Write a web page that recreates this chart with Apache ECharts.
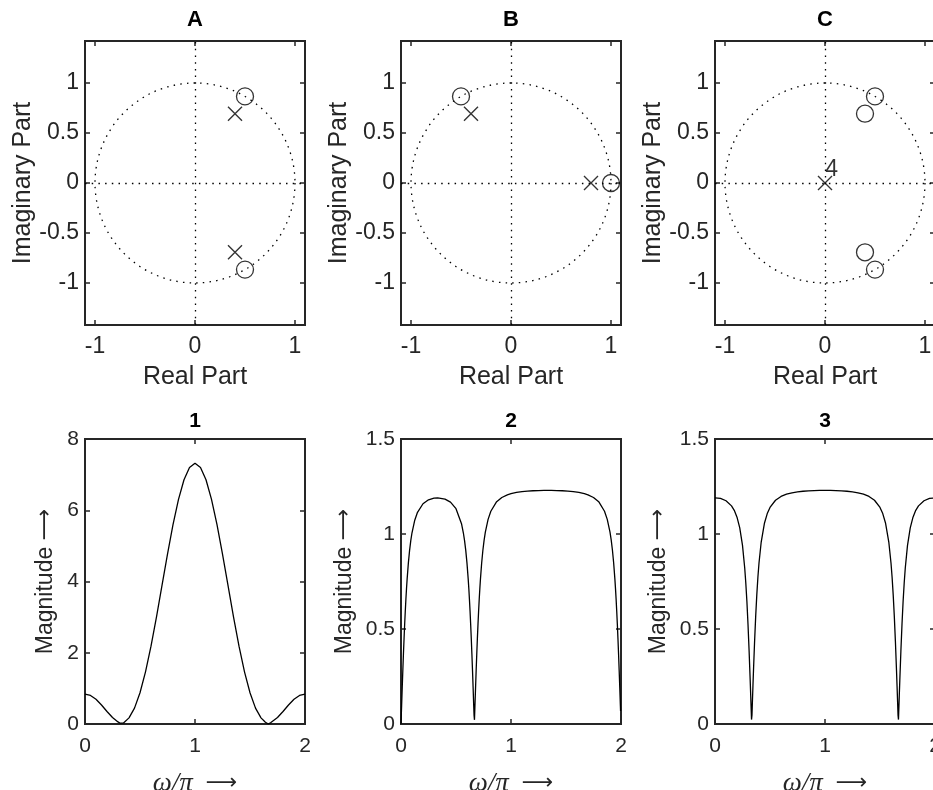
<!DOCTYPE html>
<html><head><meta charset="utf-8">
<script src="https://cdn.jsdelivr.net/npm/echarts@6/dist/echarts.min.js"></script>
<style>html,body{margin:0;padding:0;background:#fff}#c{width:933px;height:790px}</style>
</head><body><div id="c"></div><script>
// ---------- pole-zero data ----------
const zerosA = [[0.5, 0.866], [0.5, -0.866]];
const polesA = [[0.4, 0.693], [0.4, -0.693]];
const zerosB = [[-0.5, 0.866], [1, 0]];
const polesB = [[-0.4, 0.693], [0.8, 0]];
const zerosC = [[0.5, 0.866], [0.5, -0.866], [0.4, 0.693], [0.4, -0.693]];
const polesC = [[0, 0]];
const polesCMultiplicity = ['4'];
const unitCircle = [[0, 0, 1]];            // centre x, centre y, radius
const pzXTicks = [-1, 0, 1];
const pzYTicks = [-1, -0.5, 0, 0.5, 1];
const pzTitles = ['A', 'B', 'C'];
const magTitles = ['1', '2', '3'];

// ---------- magnitude responses (x in units of omega/pi) ----------
const w1 = [0,0.05,0.1,0.15,0.2,0.25,0.3,0.31,0.32,0.3333,0.35,0.36,0.4,0.45,0.5,0.55,0.6,0.65,0.7,0.75,0.8,0.85,0.9,0.95,1,1.05,1.1,1.15,1.2,1.25,1.3,1.35,1.4,1.45,1.5,1.55,1.6,1.64,1.65,1.6667,1.68,1.69,1.7,1.75,1.8,1.85,1.9,1.95,2];
const mag1 = [0.840,0.8015,0.6927,0.5327,0.3509,0.1825,0.0587,0.0399,0.0225,0,0.0300,0.0507,0.1722,0.4463,0.8773,1.4635,2.1858,3.0098,3.8896,4.7708,5.5955,6.3073,6.8559,7.2018,7.3200,7.2018,6.8559,6.3073,5.5955,4.7708,3.8896,3.0098,2.1858,1.4635,0.8773,0.4463,0.1722,0.0507,0.0300,0,0.0225,0.0399,0.0587,0.1825,0.3509,0.5327,0.6927,0.8015,0.840];

const w2 = [0,0.0039,0.0056,0.0111,0.0167,0.0222,0.0278,0.0333,0.0389,0.0444,0.05,0.0556,0.0667,0.0778,0.0889,0.1,0.125,0.15,0.2,0.25,0.3,0.3333,0.35,0.4,0.45,0.5,0.55,0.5667,0.5778,0.5889,0.6,0.6111,0.6167,0.6222,0.6278,0.6333,0.6389,0.6444,0.65,0.6556,0.6611,0.6641,0.668,0.6722,0.6778,0.6833,0.6889,0.6944,0.7,0.7056,0.7111,0.7167,0.7222,0.7333,0.7444,0.7556,0.7667,0.7917,0.8167,0.8667,0.9167,0.9667,1,1.05,1.1,1.15,1.2,1.25,1.3,1.3333,1.3667,1.4167,1.4667,1.5167,1.5667,1.6167,1.6667,1.7,1.75,1.8,1.85,1.875,1.9,1.9111,1.9222,1.9333,1.9444,1.95,1.9556,1.9611,1.9667,1.9722,1.9778,1.9833,1.9889,1.9944,1.9961];
const mag2 = [0,0.068,0.0965,0.1912,0.2826,0.3693,0.4504,0.5253,0.5937,0.6557,0.7115,0.7614,0.8456,0.9122,0.9648,1.0065,1.0728,1.1142,1.1593,1.1800,1.1887,1.1905,1.1899,1.1836,1.1681,1.1334,1.0541,1.0065,0.9648,0.9122,0.8456,0.7614,0.7115,0.6557,0.5937,0.5253,0.4504,0.3693,0.2826,0.1912,0.0965,0.046,0.022,0.0965,0.1912,0.2827,0.3695,0.4508,0.5258,0.5944,0.6566,0.7125,0.7627,0.8473,0.9144,0.9675,1.0098,1.0771,1.1198,1.1678,1.1923,1.2062,1.2123,1.2186,1.2229,1.2258,1.2276,1.2288,1.2294,1.2295,1.2294,1.2288,1.2276,1.2258,1.2229,1.2186,1.2123,1.2062,1.1923,1.1678,1.1198,1.0771,1.0098,0.9675,0.9144,0.8473,0.7627,0.7125,0.6566,0.5944,0.5258,0.4508,0.3695,0.2827,0.1912,0.0965,0.068];

const w3 = [0,0.05,0.1,0.15,0.175,0.2,0.225,0.25,0.27,0.28,0.29,0.3,0.31,0.32,0.325,0.332,0.336,0.34,0.345,0.35,0.36,0.37,0.38,0.39,0.4,0.42,0.45,0.475,0.5,0.55,0.6,0.65,0.7,0.75,0.8,0.85,0.9,0.95,1,1.05,1.1,1.15,1.2,1.25,1.3,1.35,1.4,1.45,1.5,1.525,1.55,1.58,1.6,1.61,1.62,1.63,1.64,1.65,1.655,1.66,1.664,1.668,1.675,1.68,1.69,1.7,1.71,1.72,1.73,1.75,1.775,1.8,1.825,1.85,1.9,1.95,2];
const mag3 = [1.1905,1.1870,1.1749,1.1481,1.1245,1.0887,1.0324,0.9401,0.8224,0.7422,0.6447,0.5253,0.3860,0.2282,0.1442,0.0232,0.0464,0.1156,0.2005,0.2827,0.4350,0.5677,0.6797,0.7721,0.8474,0.9578,1.0581,1.1075,1.1399,1.1777,1.1978,1.2095,1.2169,1.2217,1.2249,1.2271,1.2285,1.2293,1.2295,1.2293,1.2285,1.2271,1.2249,1.2217,1.2169,1.2095,1.1978,1.1777,1.1399,1.1075,1.0581,0.9578,0.8474,0.7721,0.6797,0.5677,0.4350,0.2827,0.2005,0.1156,0.0464,0.0232,0.1442,0.2282,0.3860,0.5253,0.6447,0.7422,0.8224,0.9401,1.0324,1.0887,1.1245,1.1481,1.1749,1.1870,1.1905];

const magYMax = [8, 1.5, 1.5];
const magYInterval = [2, 0.5, 0.5];

// ---------- styling / layout ----------
const FONT = '"Liberation Sans", Arial, Helvetica, sans-serif';
const AX = '#262626';
const TOP_FS = {tick: 23, name: 25, title: 22};
const BOT_FS = {tick: 21, name: 23, title: 21};
const colLeft = [85, 401, 715];
const PW = 220;
const topRow = {top: 41, height: 284};
const botRow = {top: 439, height: 285};
const dotted = [1.5, 5.2];

const chart = echarts.init(document.getElementById('c'), null, {renderer: 'canvas'});

const grids = [], xAxes = [], yAxes = [], series = [], graphics = [];

function tickStyle() {
  return {show: true, inside: true, length: 5, lineStyle: {color: AX, width: 1.5}};
}
function addAxes(gi, fs, xmin, xmax, xTicks, ymin, ymax, yTicks, xName, yName, xGap, yGap, xMargin, yInterval) {
  const lab = {color: AX, fontSize: fs.tick, fontFamily: FONT};
  const xBase = {gridIndex: gi, type: 'value', min: xmin, max: xmax, splitLine: {show: false},
    axisLine: {show: false, onZero: false}};
  const yBase = {gridIndex: gi, type: 'value', min: ymin, max: ymax, splitLine: {show: false},
    axisLine: {show: false, onZero: false}};
  const xTickCfg = xTicks ? {customValues: xTicks} : {};
  const yTickCfg = yTicks ? {customValues: yTicks} : {};
  const yInt = yInterval ? {interval: yInterval} : {};
  xAxes.push(Object.assign({}, xBase, xTicks ? {} : {interval: 1}, {
    position: 'bottom', name: xName.text, nameLocation: 'middle', nameGap: xGap,
    nameTextStyle: xName.style,
    axisTick: Object.assign(tickStyle(), xTickCfg),
    axisLabel: Object.assign({margin: xMargin}, lab, xTickCfg)
  }));
  xAxes.push(Object.assign({}, xBase, xTicks ? {} : {interval: 1}, {
    position: 'top',
    axisTick: Object.assign(tickStyle(), xTickCfg),
    axisLabel: Object.assign({show: false}, xTickCfg)
  }));
  yAxes.push(Object.assign({}, yBase, yInt, {
    position: 'left', name: yName.text, nameLocation: 'middle', nameGap: yGap,
    nameTextStyle: yName.style,
    axisTick: Object.assign(tickStyle(), yTickCfg),
    axisLabel: Object.assign({margin: 6}, lab, yTickCfg)
  }));
  yAxes.push(Object.assign({}, yBase, yInt, {
    position: 'right',
    axisTick: Object.assign(tickStyle(), yTickCfg),
    axisLabel: Object.assign({show: false}, yTickCfg)
  }));
}

function renderUnitCircle(params, api) {
  const c = api.coord([api.value(0), api.value(1)]);
  const e = api.coord([api.value(0) + api.value(2), api.value(1)]);
  return {
    type: 'circle', silent: true,
    shape: {cx: c[0], cy: c[1], r: Math.abs(e[0] - c[0])},
    style: {fill: 'none', stroke: '#000', lineWidth: 1.3, lineDash: dotted}
  };
}

const pzZeros = [zerosA, zerosB, zerosC];
const pzPoles = [polesA, polesB, polesC];
const pzLabels = [null, null, polesCMultiplicity];
const crossPath = 'path://M0,0L10,10M10,0L0,10';

const arrowStyle = {fontFamily: '"DejaVu Sans", sans-serif', fontSize: 22, color: AX};
const realName = {text: 'Real Part', style: {color: AX, fontSize: TOP_FS.name, fontFamily: FONT}};
const imagName = {text: 'Imaginary Part', style: {color: AX, fontSize: TOP_FS.name, fontFamily: FONT}};
const wName = {text: '{m|ω/π}  {a|⟶}', style: {color: AX, fontSize: BOT_FS.name, fontFamily: FONT,
  rich: {m: {fontFamily: '"Liberation Serif", serif', fontStyle: 'italic', fontSize: 27, color: AX},
         a: arrowStyle}}};
const magName = {text: 'Magnitude {a|⟶}', style: {color: AX, fontSize: BOT_FS.name, fontFamily: FONT,
  rich: {a: arrowStyle}}};

// top row : pole-zero plots
for (let k = 0; k < 3; k++) {
  const gi = k;
  grids.push({left: colLeft[k], top: topRow.top, width: PW, height: topRow.height,
    outerBoundsMode: 'none', containLabel: false,
    show: true, borderColor: AX, borderWidth: 2, backgroundColor: 'transparent'});
  addAxes(gi, TOP_FS, -1.1, 1.1, pzXTicks, -1.42, 1.42, pzYTicks, realName, imagName, 40, 48, 10);
  const xi = gi * 2, yi = gi * 2;
  series.push({
    type: 'custom', xAxisIndex: xi, yAxisIndex: yi, data: unitCircle,
    encode: {x: 0, y: 1}, renderItem: renderUnitCircle, silent: true, z: 1
  });
  series.push({
    type: 'scatter', xAxisIndex: xi, yAxisIndex: yi, data: pzZeros[k],
    symbol: 'circle', symbolSize: 17, silent: true, z: 3,
    itemStyle: {color: 'rgba(0,0,0,0)', borderColor: '#000', borderWidth: 1.3},
    markLine: {silent: true, symbol: ['none', 'none'], label: {show: false},
      lineStyle: {color: '#000', width: 1.3, type: dotted},
      data: [{xAxis: 0}, {yAxis: 0}]}
  });
  const lbl = pzLabels[k];
  series.push({
    type: 'scatter', xAxisIndex: xi, yAxisIndex: yi, data: pzPoles[k],
    symbol: crossPath, symbolSize: 14, silent: true, z: 4,
    itemStyle: {color: 'rgba(0,0,0,0)', borderColor: '#000', borderWidth: 1.4},
    label: lbl ? {show: true, formatter: p => lbl[p.dataIndex], position: [8, -17],
      align: 'left', verticalAlign: 'top', fontSize: TOP_FS.tick, fontFamily: FONT, color: '#000'} : {show: false}
  });
  graphics.push({type: 'text', x: colLeft[k] + PW / 2, y: 20, silent: true,
    style: {text: pzTitles[k], align: 'center', verticalAlign: 'middle', textAlign: 'center',
      textVerticalAlign: 'middle', fontSize: TOP_FS.title, fontWeight: 'bold', fontFamily: FONT, fill: '#000'}});
}

// bottom row : magnitude responses
const ws = [w1, w2, w3], ms = [mag1, mag2, mag3];
const magGaps = [28, 45, 45];
for (let k = 0; k < 3; k++) {
  const gi = 3 + k;
  grids.push({left: colLeft[k], top: botRow.top, width: PW, height: botRow.height,
    outerBoundsMode: 'none', containLabel: false,
    show: true, borderColor: AX, borderWidth: 2, backgroundColor: 'transparent'});
  addAxes(gi, BOT_FS, 0, 2, null, 0, magYMax[k], null, wName, magName, 46, magGaps[k], 12, magYInterval[k]);
  const w = ws[k], m = ms[k];
  series.push({
    type: 'line', xAxisIndex: gi * 2, yAxisIndex: gi * 2,
    data: w.map((x, i) => [x, m[i]]), showSymbol: false, symbol: 'none', silent: true,
    lineStyle: {color: '#000', width: 1.3}, clip: true, z: 3
  });
  graphics.push({type: 'text', x: colLeft[k] + PW / 2, y: 421, silent: true,
    style: {text: magTitles[k], align: 'center', verticalAlign: 'middle', textAlign: 'center',
      textVerticalAlign: 'middle', fontSize: BOT_FS.title, fontWeight: 'bold', fontFamily: FONT, fill: '#000'}});
}

chart.setOption({
  animation: false,
  backgroundColor: '#fff',
  textStyle: {fontFamily: FONT},
  grid: grids, xAxis: xAxes, yAxis: yAxes, series: series, graphic: graphics
});
</script></body></html>
